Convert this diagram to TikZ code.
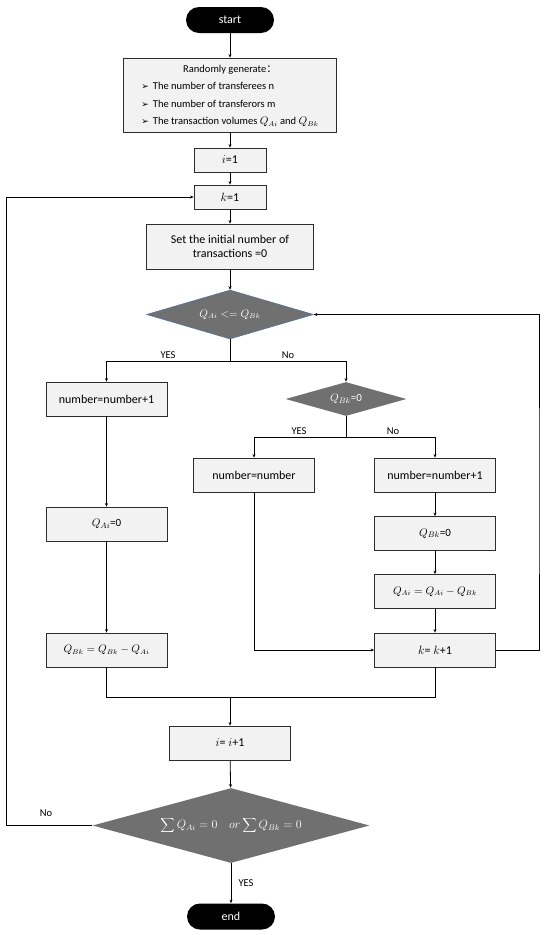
\documentclass[tikz,border=0pt]{standalone}
\usepackage{fontspec}
\setmainfont{Carlito}
\newfontfamily\dejavu{DejaVu Sans}
\newfontfamily\cjk{Noto Sans CJK SC}
\usetikzlibrary{shapes.geometric,arrows.meta}
\definecolor{boxfill}{RGB}{242,242,242}
\definecolor{boxline}{RGB}{45,45,45}
\definecolor{diafill}{RGB}{112,112,112}
\definecolor{diaedge}{RGB}{80,110,165}
\begin{document}
\begin{tikzpicture}[x=1pt,y=-1pt,line width=0.8pt,
  font=\fontsize{12}{14}\selectfont,
  procbox/.style={draw=boxline,fill=boxfill,line width=0.8pt,minimum width=121pt,minimum height=34pt,inner sep=2pt,align=center},
  mathsize/.style={font=\fontsize{10.5}{12}\selectfont},
  decision/.style={diamond,fill=diafill,text=white,inner sep=0pt},
  term/.style={fill=black,text=white,rounded corners=13pt,minimum width=88pt,minimum height=26pt,inner sep=0pt},
  arr/.style={-{Stealth[length=3.5pt,width=3pt]}},
  lbl/.style={font=\fontsize{10.5}{12}\selectfont,inner sep=0pt}]
\path[use as bounding box,fill=white] (0,0) rectangle (550,935);

\node[term] (start) at (230,20) {start};
\node[procbox,minimum width=213pt,minimum height=74pt,inner sep=0pt,font=\fontsize{10.5}{12}\selectfont] (rand) at (230,95)
 {\renewcommand\arraystretch{1.45}\begin{tabular}{@{}l@{}}
  \multicolumn{1}{@{}c@{}}{Randomly generate{\cjk ：}}\\
  {\dejavu\fontsize{9}{10}\selectfont ➢}\hspace{4pt}The number of transferees n\\
  {\dejavu\fontsize{9}{10}\selectfont ➢}\hspace{4pt}The number of transferors m\\
  {\dejavu\fontsize{9}{10}\selectfont ➢}\hspace{4pt}The transaction volumes $Q_{Ai}$ and $Q_{Bk}$
 \end{tabular}};
\node[procbox,minimum width=72pt,minimum height=24pt] (i1) at (230,160) {$i$=1};
\node[procbox,minimum width=72pt,minimum height=24pt] (k1) at (230,197) {$k$=1};
\node[procbox,minimum width=167pt,minimum height=45pt] (init) at (230,246.5) {Set the initial number of\\transactions =0};
\node[decision,draw=diaedge,line width=0.5pt,minimum width=167pt,minimum height=49pt,aspect=3.4,mathsize] (d1) at (230,314.5) {$Q_{Ai} <= Q_{Bk}$};

\node[procbox] (n1) at (106.5,399) {number=number+1};
\node[decision,minimum width=121pt,minimum height=34pt,aspect=3.5,font=\fontsize{11}{13}\selectfont] (d2) at (346,399) {$Q_{Bk}$=0};
\node[procbox] (nn) at (254,475) {number=number};
\node[procbox] (n2) at (435,475) {number=number+1};
\node[procbox,font=\fontsize{11}{13}\selectfont] (qa0) at (106.5,524) {$Q_{Ai}$=0};
\node[procbox,font=\fontsize{11}{13}\selectfont] (qb0) at (435,533.5) {$Q_{Bk}$=0};
\node[procbox,mathsize] (qaeq) at (435,591.5) {$Q_{Ai} = Q_{Ai} - Q_{Bk}$};
\node[procbox] (kk) at (435,650) {$k$= $k$+1};
\node[procbox,mathsize] (qbl) at (106.5,650) {$Q_{Bk} = Q_{Bk} - Q_{Ai}$};
\node[procbox] (i2) at (230,743) {$i$= $i$+1};
\node[decision,minimum width=277pt,minimum height=75pt,aspect=3.7,font=\fontsize{11.5}{13}\selectfont] (d3) at (231,825.5)
 {$\displaystyle\sum Q_{Ai} = 0 \quad or \sum Q_{Bk} = 0$};
\node[term] (end) at (231,916.5) {end};

\node[lbl] (yes1) at (168,355) {YES};
\node[lbl] (no1) at (288,355) {No};
\node[lbl] (yes2) at (299,431) {YES};
\node[lbl] (no2) at (393,431) {No};
\node[lbl] (no3) at (46,813) {No};
\node[lbl] (yes3) at (246,883) {YES};

\coordinate (b1) at (230,361);
\coordinate (b2) at (346,437);
\coordinate (m) at (230,697);
\coordinate (lx) at (6.5,500);
\coordinate (rx) at (539,500);

\draw[arr] (start) -- (rand);
\draw[arr] (rand) -- (i1);
\draw[arr] (i1) -- (k1);
\draw[arr] (k1) -- (init);
\draw[arr] (init) -- (d1);
\draw (d1.south) -- (b1);
\draw[arr] (b1) -| (n1.north);
\draw[arr] (b1) -| (d2.north);
\draw (d2.south) -- (b2);
\draw[arr] (b2) -| (nn.north);
\draw[arr] (b2) -| (n2.north);
\draw[arr] (n1) -- (qa0);
\draw[arr] (qa0) -- (qbl);
\draw[arr] (n2) -- (qb0);
\draw[arr] (qb0) -- (qaeq);
\draw[arr] (qaeq) -- (kk);
\draw[arr] (nn.south) |- (kk.west);
\draw[arr] (kk.east) -| (rx) |- (d1.east);
\draw (qbl.south) |- (m);
\draw (kk.south) |- (m);
\draw[arr] (m) -- (i2.north);
\draw[arr] (i2) -- (d3);
\draw[arr] (d3.west) -| (lx) |- (k1.west);
\draw[arr] (d3.south) -- (end.north);
\end{tikzpicture}
\end{document}
